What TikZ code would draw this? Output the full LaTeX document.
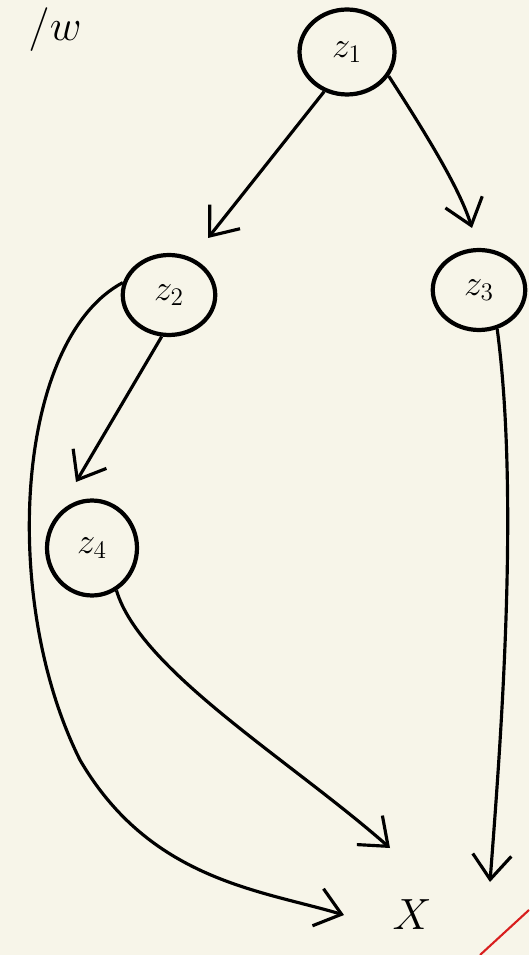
\documentclass[tikz,border=0pt]{standalone}
\usetikzlibrary{arrows.meta,shapes.geometric}
\definecolor{paper}{HTML}{F7F5E9}
\definecolor{inkred}{HTML}{D81E1E}
\begin{document}
\begin{tikzpicture}[x=0.02cm, y=-0.02cm,
    var/.style={ellipse, draw, line width=2.4pt, minimum width=1.85cm, minimum height=1.6cm, font=\huge, inner sep=0pt},
    link/.style={line width=1.8pt, -{Straight Barb[length=14pt, width=22pt, line width=1.8pt]}}]
    \fill[paper] (0,0) rectangle (529,955);
    \useasboundingbox (0,0) rectangle (529,955);

    \node (w) at (55,30) {\fontsize{48}{48}\selectfont $/w$};

    \node[var, minimum width=1.9cm, minimum height=1.7cm] (z1) at (347,52) {$z_1$};
    \node[var] (z2) at (169,295) {$z_2$};
    \node[var] (z3) at (479,290) {$z_3$};
    \node[var, minimum width=1.8cm, minimum height=1.9cm] (z4) at (92,548) {$z_4$};
    \node[font=\fontsize{44}{44}\selectfont] (x) at (412,915) {$X$};

    \draw[link] (z1.-120) -- (208,238);
    \draw[link] (z1.-30) .. controls (430,140) and (460,190) .. (472,228);
    \draw[link] (z2.-100) -- (76,482);
    \draw[link] (z2.165) .. controls (15,340) and (0,600) .. (80,760) .. controls (150,880) and (260,890) .. (344,915);
    \draw[link] (z4.-60) .. controls (140,670) and (290,760) .. (390,848);
    \draw[link] (z3.-65) .. controls (520,500) and (500,750) .. (490,882);

    \draw[inkred, line width=1.2pt] (480,955) -- (529,910);
\end{tikzpicture}
\end{document}
